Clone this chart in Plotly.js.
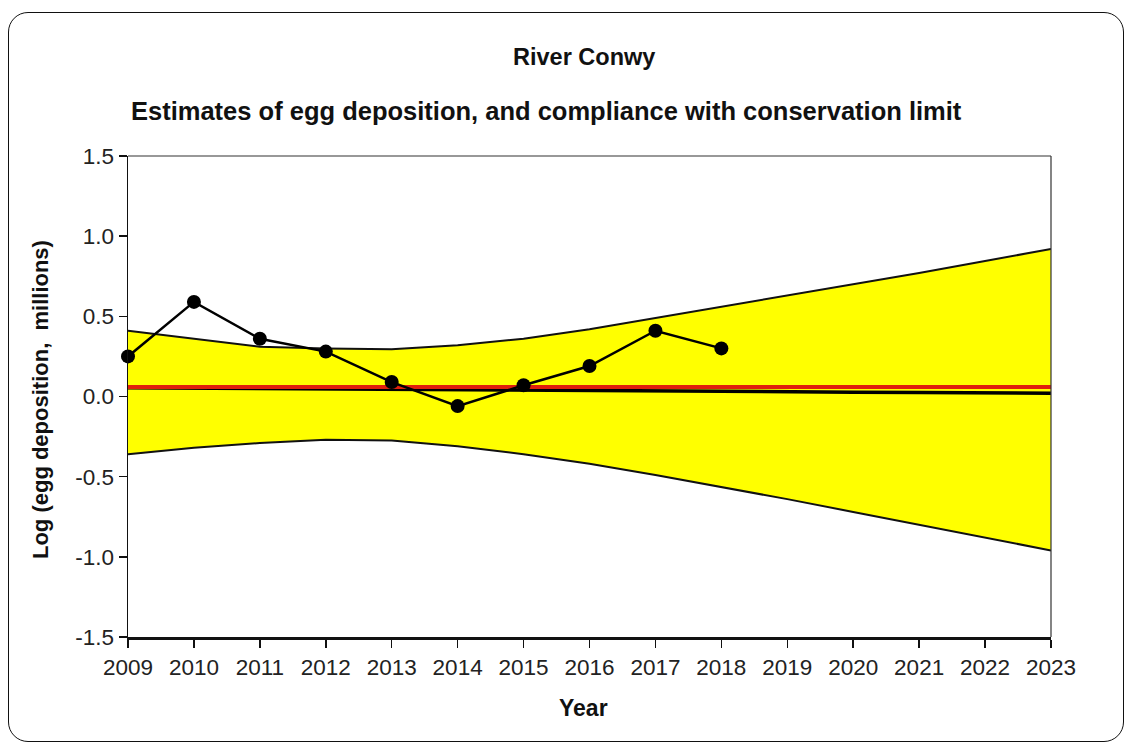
<!DOCTYPE html>
<html>
<head>
<meta charset="utf-8">
<script src="https://cdn.plot.ly/plotly-3.0.1.min.js"></script>
<style>
  html, body { margin: 0; padding: 0; background: #ffffff; }
  #frame {
    position: absolute; left: 8px; top: 12px;
    width: 1114px; height: 728px;
    border: 1.5px solid #111; border-radius: 20px;
    background: #ffffff;
  }
  #chart { position: absolute; left: 0; top: 0; width: 1128px; height: 742px; }
</style>
</head>
<body>
<div id="frame"></div>
<div id="chart"></div>
<script>
// Egg deposition estimates for the River Conwy (log10, millions of eggs)
const years = [2009, 2010, 2011, 2012, 2013, 2014, 2015, 2016, 2017, 2018];
const eggDeposition = [0.25, 0.59, 0.36, 0.28, 0.09, -0.06, 0.07, 0.19, 0.41, 0.30];

// Trend projection and its confidence envelope
const bandYears = [2009, 2010, 2011, 2012, 2013, 2014, 2015, 2016, 2017, 2018, 2019, 2020, 2021, 2022, 2023];
const bandUpper = [0.41, 0.36, 0.31, 0.30, 0.295, 0.32, 0.36, 0.42, 0.49, 0.56, 0.63, 0.70, 0.77, 0.845, 0.92];
const bandLower = [-0.36, -0.32, -0.29, -0.27, -0.275, -0.31, -0.36, -0.42, -0.49, -0.565, -0.64, -0.72, -0.80, -0.88, -0.96];
const trendLine = [0.055, 0.052, 0.05, 0.047, 0.045, 0.042, 0.04, 0.037, 0.035, 0.032, 0.03, 0.027, 0.025, 0.022, 0.02];

// Conservation limit
const conservationLimit = 0.06;
const limitYears = [2009, 2023];

const yTicks = [-1.5, -1.0, -0.5, 0.0, 0.5, 1.0, 1.5];
const yTickText = ['-1.5', '-1.0', '-0.5', '0.0', '0.5', '1.0', '1.5'];
const xTicks = bandYears;

const FONT = 'Liberation Sans, Arial, sans-serif';

const traces = [
  { x: bandYears, y: bandLower, type: 'scatter', mode: 'lines',
    line: { color: '#111', width: 2 }, hoverinfo: 'skip' },
  { x: bandYears, y: bandUpper, type: 'scatter', mode: 'lines',
    line: { color: '#111', width: 2 }, fill: 'tonexty', fillcolor: '#ffff00', hoverinfo: 'skip' },
  { x: bandYears, y: trendLine, type: 'scatter', mode: 'lines',
    line: { color: '#000', width: 3.5 } },
  { x: limitYears, y: limitYears.map(() => conservationLimit), type: 'scatter', mode: 'lines',
    line: { color: '#e0200c', width: 4 } },
  { x: years, y: eggDeposition, type: 'scatter', mode: 'lines+markers',
    line: { color: '#000', width: 2.5 },
    marker: { color: '#000', size: 14 }, cliponaxis: false }
];

const layout = {
  width: 1128, height: 742,
  margin: { l: 128, r: 77, t: 156, b: 105 },
  paper_bgcolor: 'rgba(0,0,0,0)',
  plot_bgcolor: '#ffffff',
  showlegend: false,
  font: { family: FONT, color: '#222', size: 22 },
  xaxis: {
    range: [2009, 2023], tickmode: 'array', tickvals: xTicks,
    ticks: 'outside', ticklen: 8, tickwidth: 1.5, tickcolor: '#111',
    showline: true, linecolor: '#111', linewidth: 3,
    showgrid: false, zeroline: false,
    tickfont: { family: FONT, size: 22.5, color: '#222' }
  },
  yaxis: {
    range: [-1.5, 1.5], tickmode: 'array', tickvals: yTicks, ticktext: yTickText,
    ticks: 'outside', ticklen: 8, tickwidth: 1.5, tickcolor: '#111',
    showline: true, linecolor: '#111', linewidth: 1.5,
    showgrid: false, zeroline: false,
    tickfont: { family: FONT, size: 22.5, color: '#222' }
  },
  shapes: [
    { type: 'line', xref: 'paper', yref: 'paper', x0: 0, x1: 1, y0: 1, y1: 1,
      line: { color: '#333', width: 1.2 } },
    { type: 'line', xref: 'paper', yref: 'paper', x0: 1, x1: 1, y0: 0, y1: 1,
      line: { color: '#333', width: 1.2 } }
  ],
  annotations: [
    { text: '<b>River Conwy</b>', xref: 'paper', yref: 'paper', x: 0.4935, y: 1.2058,
      xanchor: 'center', yanchor: 'middle', showarrow: false,
      font: { family: FONT, size: 23.5, color: '#111' } },
    { text: '<b>Estimates of egg deposition, and compliance with conservation limit</b>',
      xref: 'paper', yref: 'paper', x: 0.4534, y: 1.0936,
      xanchor: 'center', yanchor: 'middle', showarrow: false,
      font: { family: FONT, size: 25.5, color: '#111' } },
    { text: '<b>Year</b>', xref: 'paper', yref: 'paper', x: 0.494, y: -0.1476,
      xanchor: 'center', yanchor: 'middle', showarrow: false,
      font: { family: FONT, size: 23, color: '#111' } },
    { text: '<b>Log (egg deposition,  millions)</b>', xref: 'paper', yref: 'paper',
      x: -0.0953, y: 0.4927, textangle: -90,
      xanchor: 'center', yanchor: 'middle', showarrow: false,
      font: { family: FONT, size: 22, color: '#111' } }
  ]
};

Plotly.newPlot('chart', traces, layout, { displayModeBar: false, staticPlot: true });
</script>
</body>
</html>
